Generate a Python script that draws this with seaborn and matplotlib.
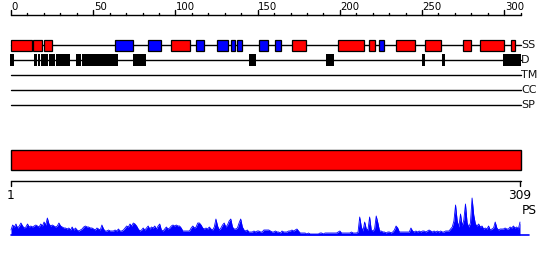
import numpy as np
import pandas as pd
import matplotlib
matplotlib.use("Agg")
import matplotlib.pyplot as plt
import seaborn as sns
from matplotlib.patches import Rectangle

# ---------------- data ----------------
SEQ_LEN = 309
ruler_major = [0, 50, 100, 150, 200, 250, 300]
ruler_minor = list(range(0, 320, 10))

# secondary structure (start, end residue)
helix_segments = [(1, 13.5), (14.5, 19.6), (21.1, 26), (97.8, 109.1), (171.2, 179.3),
                  (199, 214.4), (217.8, 221.1), (234.1, 245.3), (251.7, 261),
                  (274.7, 279.2), (285, 299.1), (303.7, 306.2)]
strand_segments = [(64.1, 74.6), (84.1, 91.6), (113.1, 117.6), (125.7, 132.1),
                   (134.1, 136.4), (137.8, 141), (151.2, 156.3), (160.7, 164.2),
                   (223.9, 226.5)]
# disorder
disorder_segments = [(0.4, 2.6), (14.9, 16.7), (17.3, 18.5), (19.2, 23.2), (24, 27.6),
                     (28.2, 36.7), (40.3, 43.4), (44, 65.7), (74.8, 82.7),
                     (145, 149.3), (191.6, 196.4), (249.7, 251.3), (261.6, 263.6),
                     (298.7, 309.4)]
track_names = ["SS", "D", "TM", "CC", "SP"]

# domain bar
domain_start, domain_end = 1, 309

# PS profile (one value per residue)
ps_values = [
    5, 10, 8, 11, 7, 9, 12, 9, 7, 8,
    11, 8, 9, 8, 9, 10, 9, 8, 11, 9,
    13, 10, 17, 11, 9, 10, 9, 8, 9, 12,
    9, 8, 7, 7, 6, 7, 5, 8, 5, 7,
    5, 4, 5, 6, 8, 9, 8, 8, 7, 7,
    6, 5, 7, 6, 5, 10, 6, 4, 4, 5,
    4, 4, 4, 5, 4, 6, 4, 4, 5, 7,
    9, 8, 11, 9, 12, 11, 9, 6, 4, 5,
    7, 5, 7, 9, 6, 8, 7, 9, 6, 9,
    11, 5, 4, 6, 8, 6, 7, 9, 10, 9,
    10, 9, 9, 7, 4, 4, 4, 4, 4, 7,
    9, 7, 8, 12, 12, 10, 7, 6, 7, 6,
    8, 6, 5, 8, 16, 9, 5, 7, 10, 12,
    8, 10, 14, 16, 8, 6, 6, 7, 12, 16,
    8, 5, 4, 5, 3, 3, 3, 4, 3, 4,
    4, 3, 3, 5, 5, 5, 5, 4, 3, 3,
    4, 3, 3, 2, 4, 3, 3, 3, 4, 4,
    5, 4, 5, 6, 4, 2, 2, 2, 2, 1,
    2, 1, 1, 1, 1, 1, 1, 2, 2, 1,
    2, 2, 2, 2, 2, 2, 2, 2, 3, 4,
    2, 2, 2, 2, 2, 2, 3, 2, 2, 2,
    3, 18, 8, 4, 13, 6, 5, 18, 5, 4,
    6, 19, 12, 4, 4, 3, 3, 2, 3, 3,
    2, 3, 5, 9, 7, 3, 3, 3, 3, 3,
    3, 3, 7, 4, 3, 4, 3, 4, 3, 4,
    4, 3, 4, 5, 4, 3, 4, 3, 4, 3,
    4, 3, 3, 4, 4, 4, 6, 8, 14, 30,
    14, 8, 21, 9, 15, 31, 12, 8, 12, 37,
    20, 11, 9, 11, 8, 9, 6, 7, 6, 9,
    5, 6, 7, 13, 7, 5, 6, 6, 6, 7,
    6, 6, 8, 7, 9, 7, 8, 6, 13,
]

# ---------------- figure ----------------
sns.set_style("white")
plt.rcParams["font.family"] = ["DejaVu Sans"]

W, H = 550, 260
fig = plt.figure(figsize=(W / 100, H / 100), dpi=100)

PX_PER_RES = 509 / 308.0
X0 = 11.0
xlim_res = (1 - X0 / PX_PER_RES, 1 + (W - X0) / PX_PER_RES)

ax = fig.add_axes([0, 0, 1, 1])
ax.set_xlim(*xlim_res)
ax.set_ylim(H, 0)
ax.axis("off")

# top ruler (own scale)
PX_PER_T = 509.7 / 310.0
axr = fig.add_axes([0, 0, 1, 1])
axr.set_xlim(-X0 / PX_PER_T, (W - X0) / PX_PER_T)
axr.set_ylim(H, 0)
axr.axis("off")
axr.plot([0, 310], [15, 15], color="black", lw=1)
for t in ruler_minor:
    top = 10 if t in ruler_major else 12.6
    axr.plot([t, t], [top, 15], color="black", lw=1)
for t in ruler_major:
    axr.text(t + 0.3, 6.5, str(t), ha="left", va="center", fontsize=7.3, color="black")

# tracks
track_y = [45, 60, 75, 90, 105]
x_end = 309.4
for name, y in zip(track_names, track_y):
    ax.plot([1, x_end], [y, y], color="black", lw=1, zorder=1)
    ax.text(x_end + 0.3, y + 0.3, name, ha="left", va="center", fontsize=8, color="#111111")

def boxes(segs, y, color, h, lw=0.9):
    for s, e in segs:
        ax.add_patch(Rectangle((s, y - h / 2), e - s, h, facecolor=color,
                               edgecolor="black" if lw > 0 else "none", lw=lw, zorder=3))

boxes(helix_segments, track_y[0] + 0.5, "#ff0000", 10.4)
boxes(strand_segments, track_y[0] + 0.5, "#0000ff", 10.4)
boxes(disorder_segments, track_y[1], "#000000", 11.8, lw=0)

# domain bar
ax.add_patch(Rectangle((domain_start, 150.3), domain_end + 0.4 - domain_start, 20,
                       facecolor="#ff0000", edgecolor="black", lw=1, zorder=3))

# bottom ruler
ax.plot([1, x_end], [180.5, 180.5], color="black", lw=1)
for xv in [1, x_end - 0.2]:
    ax.plot([xv, xv], [180.5, 185.5], color="black", lw=1)
ax.text(1, 195.5, "1", ha="center", va="center", fontsize=8.7, color="black")
ax.text(309, 195.5, "309", ha="center", va="center", fontsize=8.7, color="black")
ax.text(310.2, 210.5, "PS", ha="left", va="center", fontsize=8.7, color="black")

# PS profile
axp = fig.add_axes([0, (H - 235) / H, 1, 40 / H])
axp.set_xlim(*xlim_res)
axp.set_ylim(0, 40)
axp.axis("off")
df = pd.DataFrame({"res": np.arange(1, len(ps_values) + 1), "ps": ps_values})
axp.fill_between(df["res"], 0, df["ps"], color="#0000ff", lw=0)
sns.lineplot(data=df, x="res", y="ps", ax=axp, color="#0000ff", lw=0.6)
axp.plot([1, 1 + 518 / PX_PER_RES], [0, 0], color="#0000ff", lw=1.2, clip_on=False)
axp.set_xlabel("")
axp.set_ylabel("")

fig.savefig("out.png", dpi=100, facecolor="white")
